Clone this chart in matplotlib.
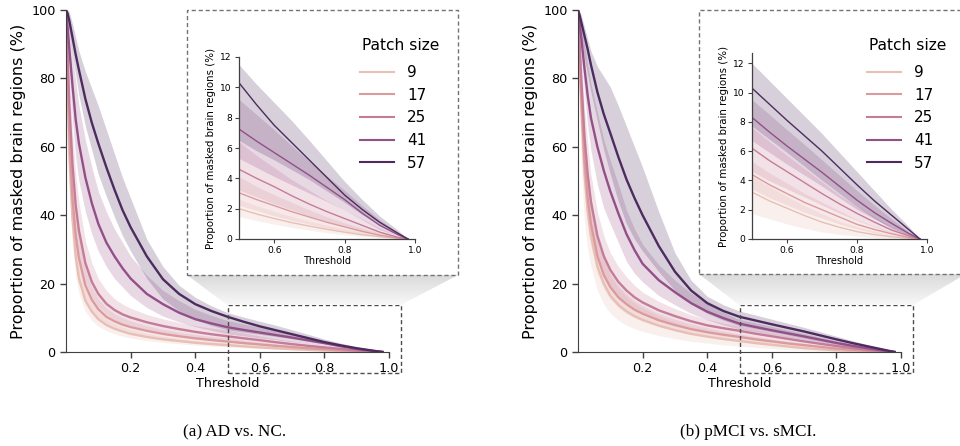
import matplotlib
matplotlib.use('Agg')
import matplotlib.pyplot as plt
import numpy as np
from matplotlib.patches import Rectangle, Polygon

# threshold grid shared by every curve
thresholds = [0, 0.005, 0.01, 0.02, 0.03, 0.04, 0.06, 0.08, 0.1, 0.125, 0.15, 0.175,
              0.2, 0.25, 0.3, 0.35, 0.4, 0.45, 0.5, 0.55, 0.6, 0.65, 0.7, 0.75, 0.8,
              0.85, 0.9, 0.95, 0.98]
patch_sizes = [9, 17, 25, 41, 57]
patch_colors = ['#e8bfb4', '#db9b9e', '#c47c99', '#934f88', '#4d2b5e']

# ---- AD vs. NC : mean and band (lo / hi) per patch size ----
ad_9 = [100, 78, 58, 39, 28, 21.5, 15, 11.8, 9.6, 7.9, 6.8, 6.0, 5.3, 4.4, 3.7, 3.2, 2.7, 2.33, 2.0,
        1.65, 1.35, 1.08, 0.85, 0.64, 0.45, 0.28, 0.15, 0.05, 0]
ad_9_lo = [100, 70, 48, 31, 22, 17, 11.8, 9.2, 7.5, 6.2, 5.3, 4.6, 4.1, 3.3, 2.8, 2.4, 2.0, 1.7, 1.45,
           1.18, 0.95, 0.74, 0.55, 0.39, 0.25, 0.14, 0.07, 0.02, 0]
ad_9_hi = [100, 86, 68, 48, 35, 27, 18.8, 14.6, 11.8, 9.8, 8.4, 7.4, 6.6, 5.5, 4.6, 3.9, 3.4, 2.98, 2.6,
           2.18, 1.8, 1.46, 1.15, 0.88, 0.65, 0.43, 0.25, 0.08, 0]

ad_17 = [100, 82, 64, 45, 34, 27.5, 19.5, 15.3, 12.5, 10.3, 9.0, 8.0, 7.3, 6.2, 5.3, 4.6, 4.0, 3.5, 3.05,
         2.6, 2.2, 1.8, 1.45, 1.1, 0.8, 0.5, 0.25, 0.07, 0]
ad_17_lo = [100, 74, 54, 36, 26.5, 21, 15, 11.8, 9.7, 8.0, 6.9, 6.2, 5.6, 4.7, 4.0, 3.5, 3.0, 2.6, 2.2,
            1.85, 1.5, 1.2, 0.95, 0.7, 0.5, 0.3, 0.15, 0.04, 0]
ad_17_hi = [100, 89, 74, 55, 42, 34.5, 24.5, 19.2, 15.6, 12.9, 11.2, 10.0, 9.1, 7.7, 6.6, 5.8, 5.1, 4.55, 4.1,
            3.45, 2.9, 2.4, 1.9, 1.45, 1.05, 0.7, 0.38, 0.11, 0]

ad_25 = [100, 87, 73, 55, 43, 35.5, 26, 20.5, 17, 14.1, 12.3, 11.0, 10.1, 8.7, 7.6, 6.7, 5.9, 5.2, 4.6,
         4.0, 3.45, 2.85, 2.3, 1.8, 1.35, 0.9, 0.45, 0.12, 0]
ad_25_lo = [100, 80, 63, 45, 34.5, 28, 20.5, 16, 13.2, 11.0, 9.5, 8.5, 7.8, 6.6, 5.7, 4.9, 4.3, 3.7, 3.2,
            2.75, 2.3, 1.9, 1.5, 1.15, 0.8, 0.5, 0.25, 0.06, 0]
ad_25_hi = [100, 92, 82, 65, 52, 44, 32.5, 26, 21.5, 18, 15.6, 14.0, 12.8, 11.0, 9.7, 8.6, 7.7, 7.0, 6.4,
            5.5, 4.7, 3.9, 3.2, 2.5, 1.9, 1.3, 0.7, 0.2, 0]

ad_41 = [100, 95, 89, 78, 68, 61, 51, 43.5, 37.5, 32, 28, 24.5, 21.5, 17, 14, 11.5, 9.6, 8.35, 7.25,
         6.45, 5.7, 4.95, 4.2, 3.4, 2.6, 1.7, 0.9, 0.3, 0]
ad_41_lo = [100, 91, 82, 68, 57, 50, 41, 34.5, 29.5, 25, 21.5, 19, 16.5, 13, 10.5, 8.8, 7.4, 6.3, 5.3,
            4.7, 4.1, 3.55, 3.0, 2.45, 1.9, 1.25, 0.6, 0.2, 0]
ad_41_hi = [100, 98, 95, 87, 79, 72, 62, 54, 47, 41, 36, 32, 28, 22.5, 18, 15, 12.5, 10.7, 9.2,
            8.2, 7.2, 6.15, 5.1, 4.15, 3.2, 2.2, 1.25, 0.45, 0]

ad_57 = [100, 99, 97, 92, 87, 82.5, 74, 67, 61, 54, 47.5, 41.5, 36.5, 28, 21.3, 17, 14.0, 12.0, 10.3,
         8.85, 7.5, 6.35, 5.2, 4.05, 2.9, 1.95, 1.1, 0.4, 0]
ad_57_lo = [100, 97, 94, 87, 81, 75, 66, 59, 52, 45.5, 39.5, 34, 29.5, 21.5, 15.5, 12, 9.5, 7.8, 6.5,
            5.8, 5.2, 4.55, 3.9, 3.15, 2.4, 1.6, 0.9, 0.3, 0]
ad_57_hi = [100, 100, 99.5, 96, 92, 88, 82, 77, 72, 65, 58, 51, 45, 33, 25, 19.5, 16, 13.5, 11.5,
            10.2, 9.0, 7.8, 6.5, 5.15, 3.8, 2.6, 1.5, 0.6, 0]

# ---- pMCI vs. sMCI ----
mci_9 = [100, 85, 72, 52, 41, 34, 25, 20, 16.5, 13.8, 11.9, 10.5, 9.4, 7.7, 6.4, 5.3, 4.5, 3.8, 3.2,
         2.6, 2.1, 1.6, 1.15, 0.8, 0.5, 0.3, 0.15, 0.05, 0]
mci_9_lo = [100, 70, 54, 38, 30, 25, 18, 14, 11.3, 9.3, 7.8, 6.8, 6.0, 4.8, 3.9, 3.1, 2.6, 2.1, 1.7,
            1.35, 1.0, 0.7, 0.45, 0.28, 0.15, 0.07, 0.03, 0.01, 0]
mci_9_hi = [100, 92, 83, 66, 54, 45, 33.5, 27, 22.5, 18.8, 16.2, 14.3, 12.8, 10.5, 8.8, 7.4, 6.3, 5.25, 4.3,
            3.55, 2.9, 2.25, 1.7, 1.2, 0.8, 0.5, 0.25, 0.08, 0]

mci_17 = [100, 87, 75, 56, 45, 37.5, 28, 22.5, 19, 16, 14, 12.4, 11.2, 9.3, 7.9, 6.7, 5.8, 5.05, 4.4,
          3.7, 3.1, 2.5, 2.0, 1.5, 1.0, 0.65, 0.35, 0.1, 0]
mci_17_lo = [100, 81, 67, 48, 37.5, 31, 23, 18.5, 15.5, 13, 11.3, 10, 9.0, 7.5, 6.3, 5.3, 4.6, 3.95, 3.4,
             2.8, 2.3, 1.8, 1.4, 1.0, 0.65, 0.4, 0.2, 0.06, 0]
mci_17_hi = [100, 92, 83, 65, 53, 45, 34, 27.5, 23, 19.5, 17, 15, 13.5, 11.2, 9.6, 8.2, 7.1, 6.15, 5.3,
             4.5, 3.8, 3.1, 2.5, 1.9, 1.3, 0.85, 0.45, 0.14, 0]

mci_25 = [100, 90, 80, 63, 52, 44, 34, 28, 24, 20.5, 18, 16, 14.5, 12.2, 10.5, 9.0, 7.8, 6.95, 6.2,
          5.35, 4.6, 3.85, 3.1, 2.4, 1.75, 1.15, 0.6, 0.2, 0]
mci_25_lo = [100, 85, 72, 55, 44, 37, 28, 23, 19.5, 16.5, 14.5, 13, 11.7, 9.8, 8.4, 7.2, 6.2, 5.35, 4.6,
             3.95, 3.4, 2.85, 2.3, 1.75, 1.25, 0.8, 0.4, 0.12, 0]
mci_25_hi = [100, 95, 88, 72, 61, 52, 41, 34, 29, 25, 22, 19.5, 17.5, 14.8, 12.7, 10.9, 9.5, 8.5, 7.6,
             6.65, 5.7, 4.8, 3.9, 3.0, 2.2, 1.5, 0.8, 0.27, 0]

mci_41 = [100, 96, 92, 83, 75, 68.5, 60, 53, 47, 40.5, 34.5, 29.8, 25.8, 21, 17.5, 14.3, 11.8, 9.9, 8.3,
          7.3, 6.35, 5.45, 4.55, 3.6, 2.65, 1.8, 1.05, 0.35, 0]
mci_41_lo = [100, 93, 87, 76, 66, 59, 49, 42, 37.5, 32, 26.5, 23, 20.5, 16.5, 13.8, 11.3, 9.4, 7.9, 6.7,
             5.9, 5.1, 4.35, 3.6, 2.8, 2.0, 1.35, 0.75, 0.25, 0]
mci_41_hi = [100, 98.5, 96, 90, 84, 78.5, 70, 62, 56, 49, 41.5, 36, 31.5, 25.5, 21, 17.2, 14.2, 11.6, 9.5,
             8.5, 7.45, 6.45, 5.4, 4.35, 3.3, 2.3, 1.35, 0.45, 0]

mci_57 = [100, 98.5, 96.5, 92.5, 88.5, 84, 76, 69.5, 64, 57, 50.5, 45, 40, 31, 23.5, 18, 14.3, 12.0, 10.3,
          9.2, 8.1, 7.05, 6.0, 4.85, 3.7, 2.6, 1.6, 0.6, 0]
mci_57_lo = [100, 96, 92, 86, 81, 76, 67.5, 59, 52, 44, 37.5, 33, 29.5, 23.5, 18, 14, 11.3, 9.3, 7.7,
             6.8, 5.9, 4.95, 4.0, 3.1, 2.2, 1.4, 0.7, 0.2, 0]
mci_57_hi = [100, 99.5, 98.5, 95, 91.5, 88, 83.5, 80.5, 77.5, 72, 66, 60, 54, 41, 29, 21, 16.3, 13.8, 12.0,
             10.8, 9.6, 8.4, 7.2, 5.9, 4.6, 3.3, 2.0, 0.8, 0]

ad_curves = [(ad_9, ad_9_lo, ad_9_hi), (ad_17, ad_17_lo, ad_17_hi), (ad_25, ad_25_lo, ad_25_hi),
             (ad_41, ad_41_lo, ad_41_hi), (ad_57, ad_57_lo, ad_57_hi)]
mci_curves = [(mci_9, mci_9_lo, mci_9_hi), (mci_17, mci_17_lo, mci_17_hi), (mci_25, mci_25_lo, mci_25_hi),
              (mci_41, mci_41_lo, mci_41_hi), (mci_57, mci_57_lo, mci_57_hi)]

plt.rcParams['axes.edgecolor'] = '0.25'
plt.rcParams['xtick.color'] = '0.25'
plt.rcParams['ytick.color'] = '0.25'
plt.rcParams['xtick.labelcolor'] = 'black'
plt.rcParams['ytick.labelcolor'] = 'black'

W, H = 960, 446
fig = plt.figure(figsize=(W / 100, H / 100), dpi=100)


def fx(px):
    return px / W


def fy(py):
    return 1 - py / H


def draw_curves(ax, curves, lw):
    for size, c, (m, lo, hi) in zip(patch_sizes, patch_colors, curves):
        ax.fill_between(thresholds, lo, hi, color=c, alpha=0.22, lw=0)
        ax.plot(thresholds, m, color=c, lw=lw, label=str(size), solid_joinstyle='round')
    for s in ['top', 'right']:
        ax.spines[s].set_visible(False)


def panel(curves, main_left, box, inset_rect, inset_ytop, legend_x):
    # main axes
    ax = fig.add_axes([fx(main_left), fy(352), fx(323), (352 - 10) / H])
    draw_curves(ax, curves, 1.7)
    ax.set_xlim(0, 1)
    ax.set_ylim(0, 100)
    ax.set_xticks([0.2, 0.4, 0.6, 0.8, 1.0])
    ax.set_yticks([0, 20, 40, 60, 80, 100])
    ax.tick_params(labelsize=9.2, length=4, width=1)
    ax.set_xlabel('Threshold', fontsize=9.2, labelpad=1)
    ax.set_ylabel('Proportion of masked brain regions (%)', fontsize=11.5, labelpad=4)

    # dashed zoom region on the main axes
    zx0, zx1, zy0, zy1 = 0.5, 1.036, -6.2, 13.7
    ax.add_patch(Rectangle((zx0, zy0), zx1 - zx0, zy1 - zy0, fill=False, ls=(0, (3, 2)),
                           lw=1, ec='0.3', clip_on=False, zorder=5))

    # grey funnel from the zoom region up to the inset frame
    bx0, by0, bx1, by1 = box
    to_fig = fig.transFigure.inverted()
    tl = to_fig.transform(ax.transData.transform((zx0, zy1)))
    tr = to_fig.transform(ax.transData.transform((zx1, zy1)))
    ov = fig.add_axes([0, 0, 1, 1], zorder=2)
    ov.set_xlim(0, 1)
    ov.set_ylim(0, 1)
    ov.axis('off')
    poly = Polygon([(fx(bx0), fy(by1)), (fx(bx1), fy(by1)), tr, tl], closed=True,
                   fc='none', ec='none')
    ov.add_patch(poly)
    grad = np.linspace(0.85, 0.97, 100).reshape(-1, 1)
    img = ov.imshow(grad, cmap='gray', vmin=0, vmax=1, aspect='auto',
                    extent=[fx(bx0), fx(bx1), tl[1], fy(by1)], origin='upper',
                    interpolation='bilinear')
    img.set_clip_path(poly)
    ov.add_patch(Rectangle((fx(bx0), fy(by1)), fx(bx1 - bx0), (by1 - by0) / H, fill=False,
                           ls=(0, (3, 2)), lw=1, ec='0.45', clip_on=False))

    # zoomed inset
    il, it, ir, ib = inset_rect
    ins = fig.add_axes([fx(il), fy(ib), fx(ir - il), (ib - it) / H], zorder=3)
    draw_curves(ins, curves, 1.0)
    ins.set_xlim(0.5, 1.0)
    ins.set_ylim(0, inset_ytop)
    ins.set_xticks([0.6, 0.8, 1.0])
    ins.set_yticks([0, 2, 4, 6, 8, 10, 12])
    ins.tick_params(labelsize=6.6, length=3, width=0.8, pad=2)
    for s in ['left', 'bottom']:
        ins.spines[s].set_linewidth(0.9)
    ins.set_xlabel('Threshold', fontsize=7, labelpad=1)
    ins.set_ylabel('Proportion of masked brain regions (%)', fontsize=7.4, labelpad=3)

    # legend rows, with the title as its own text a little higher up
    handles, labels = ins.get_legend_handles_labels()
    leg = fig.legend(handles, labels, loc='upper left',
                     bbox_to_anchor=(fx(legend_x), fy(65)), frameon=False,
                     fontsize=11, borderpad=0, borderaxespad=0,
                     labelspacing=0.5, handlelength=2.2, handletextpad=0.9)
    for line in leg.get_lines():
        line.set_linewidth(1.5)
    leg.set_zorder(4)
    fig.text(fx(legend_x + 2), fy(45), 'Patch size', fontsize=11.2, ha='left', va='center',
             zorder=4)
    return ax


panel(ad_curves, 66, (187, 10, 458, 275), (239, 57, 415, 239), 12.0, 360)
panel(mci_curves, 578, (699, 10, 966, 274), (752, 53, 927, 239), 12.7, 867)

fig.text(fx(235), fy(432), '(a) AD vs. NC.', ha='center', va='center',
         family='Liberation Serif', fontsize=12.3)
fig.text(fx(748), fy(432), '(b) pMCI vs. sMCI.', ha='center', va='center',
         family='Liberation Serif', fontsize=12.3)

fig.savefig('out.png', dpi=100)
